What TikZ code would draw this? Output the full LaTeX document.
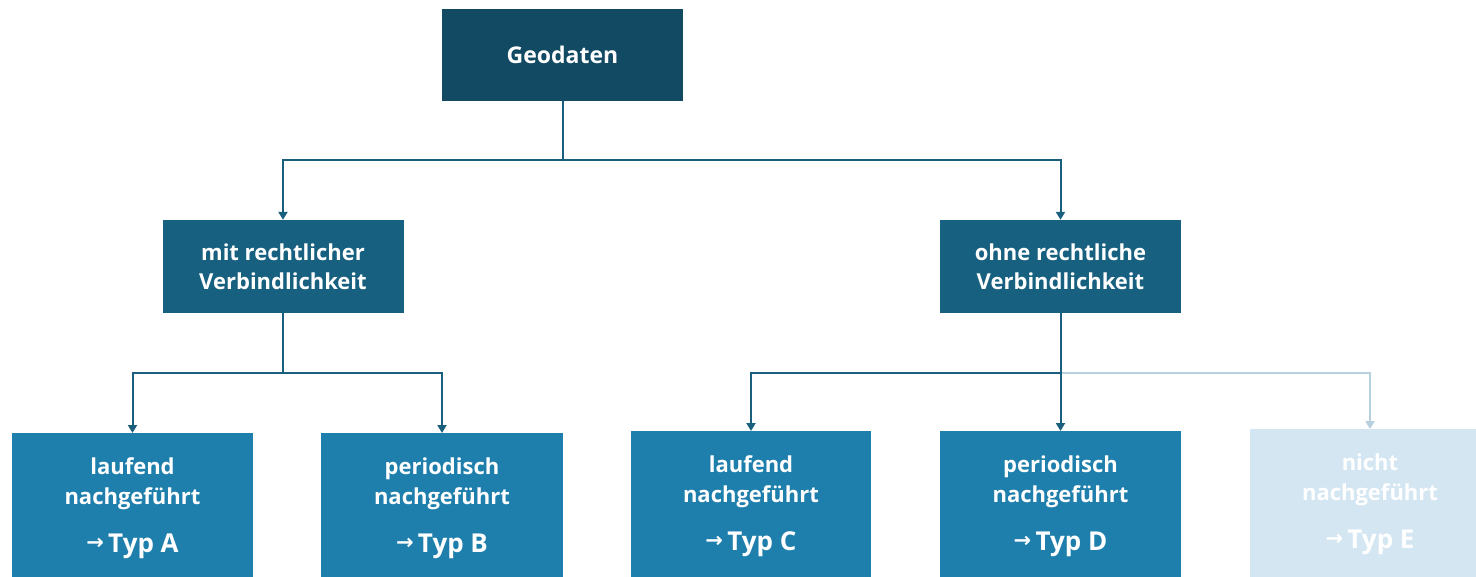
\documentclass[tikz,border=0pt]{standalone}
\usepackage{fontspec}
\setmainfont{Open Sans}
\newfontfamily\arrowfont{DejaVu Sans}
\usetikzlibrary{arrows.meta}
\definecolor{cTop}{HTML}{124A63}
\definecolor{cMid}{HTML}{17607F}
\definecolor{cLow}{HTML}{1E7FAC}
\definecolor{cFade}{HTML}{D5E6F3}
\definecolor{cLine}{HTML}{1B5F7E}
\definecolor{cLineFade}{HTML}{B6D0DF}
\newcommand{\typlabel}[1]{{\fontsize{26}{30}\selectfont\raisebox{3pt}{\arrowfont\bfseries\fontsize{21}{30}\selectfont →}\,#1}}
\begin{document}
\begin{tikzpicture}[x=1pt,y=1pt,
  box/.style={rectangle, text=white, align=center, inner sep=0pt,
    font=\fontsize{22}{29}\selectfont\bfseries},
  lowbox/.style={box, fill=cLow, minimum height=150pt, anchor=north,
    font=\fontsize{22}{30}\selectfont\bfseries},
  conn/.style={draw=cLine, line width=2pt, -{Triangle[width=9pt,length=8pt]}},
  fadeconn/.style={conn, draw=cLineFade}
]
\useasboundingbox (0,0) rectangle (1476,-577);

\node[box, fill=cTop, minimum width=241pt, minimum height=92pt,
  font=\fontsize{23}{26}\selectfont\bfseries] (geo) at (562.5,-55) {Geodaten};

\node[box, fill=cMid, minimum width=241pt, minimum height=93pt] (mit) at (283,-266.5)
  {mit rechtlicher\\Verbindlichkeit};
\node[box, fill=cMid, minimum width=241pt, minimum height=93pt] (ohne) at (1060.5,-266.5)
  {ohne rechtliche\\Verbindlichkeit};

\node[lowbox, minimum width=241pt] (A) at (132.5,-433)
  {laufend\\nachgeführt\\[18pt]\typlabel{Typ A}};
\node[lowbox, minimum width=242pt] (B) at (442,-433)
  {periodisch\\nachgeführt\\[18pt]\typlabel{Typ B}};
\node[lowbox, minimum width=240pt] (C) at (751,-431)
  {laufend\\nachgeführt\\[18pt]\typlabel{Typ C}};
\node[lowbox, minimum width=241pt] (D) at (1060.5,-431)
  {periodisch\\nachgeführt\\[18pt]\typlabel{Typ D}};
\node[lowbox, fill=cFade, minimum width=240pt] (E) at (1370,-429)
  {nicht\\nachgeführt\\[18pt]\typlabel{Typ E}};

\coordinate (j0) at (562.5,-160);
\coordinate (j1) at (283,-373);
\coordinate (j2) at (1060.5,-373);

\draw[conn] (geo.south) -- (j0) -| (mit.north);
\draw[conn] (j0) -| (ohne.north);
\draw[conn] (mit.south) -- (j1) -| (A.north);
\draw[conn] (j1) -| (B.north);
\draw[fadeconn] (j2) -| (E.north);
\draw[conn] (ohne.south) -- (j2) -| (C.north);
\draw[conn] (j2) -- (D.north);
\end{tikzpicture}
\end{document}
